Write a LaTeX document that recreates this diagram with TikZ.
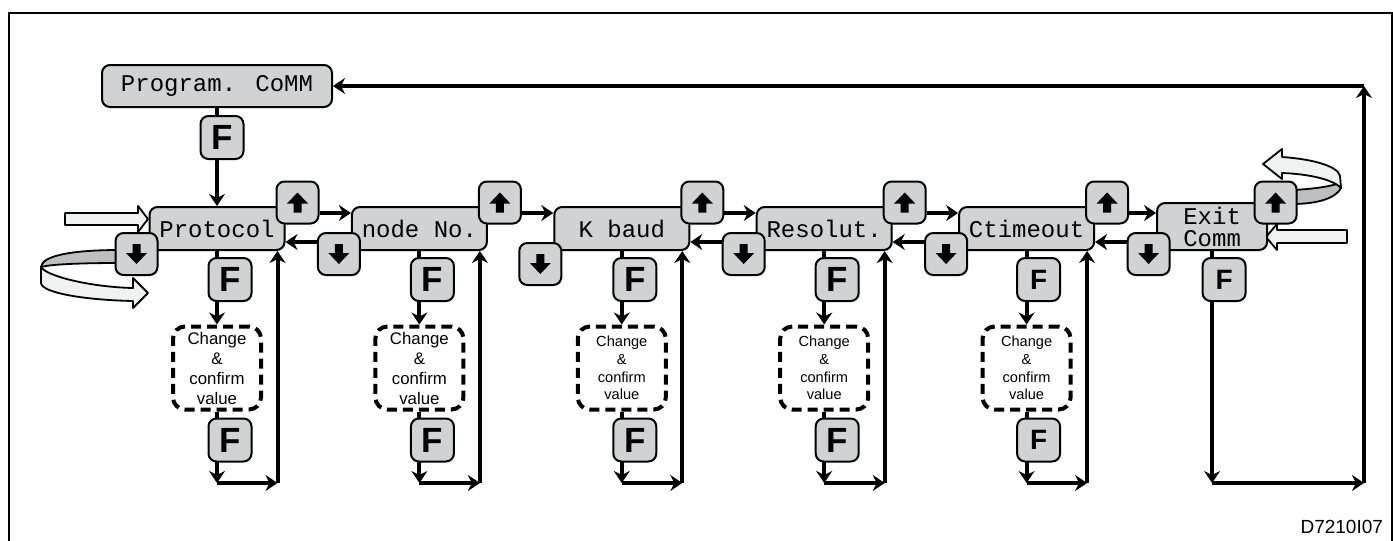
\documentclass[tikz,border=0pt]{standalone}
\usepackage{fontspec}
\setmainfont{Liberation Sans}
\newfontfamily\lcdfont{Liberation Mono}
\usepackage{tikz}
\usetikzlibrary{arrows.meta}
\usetikzlibrary{positioning}
\usetikzlibrary{backgrounds}
\definecolor{keygray}{RGB}{209,210,212}
\definecolor{bandgray}{RGB}{188,190,193}
\definecolor{arrowwhite}{RGB}{240,241,241}
\newcommand{\chgtext}{Change\\\&\\confirm\\value}

\begin{document}
\begin{tikzpicture}[x=0.5pt,y=-0.5pt,on grid,>={Stealth[length=6pt,width=8pt,inset=2pt]},
		menu/.style={rectangle,rounded corners=4pt,draw=black,line width=1pt,fill=keygray,minimum width=67.5pt,minimum height=21.5pt,inner sep=1pt,font=\lcdfont\fontsize{12}{11}\selectfont},
		key/.style={rectangle,rounded corners=4pt,draw=black,line width=1pt,fill=keygray,minimum size=21pt,inner sep=0pt},
		upkey/.style={key,path picture={\fill[black,sharp corners] ([yshift=5pt]path picture bounding box.center) -- ++(5.25pt,-5.5pt) -- ++(-3.25pt,0pt) -- ++(0pt,-4.5pt) -- ++(-4pt,0pt) -- ++(0pt,4.5pt) -- ++(-3.25pt,0pt) -- cycle;}},
		dnkey/.style={key,path picture={\fill[black,sharp corners] ([yshift=-5pt]path picture bounding box.center) -- ++(5.25pt,5.5pt) -- ++(-3.25pt,0pt) -- ++(0pt,4.5pt) -- ++(-4pt,0pt) -- ++(0pt,-4.5pt) -- ++(-3.25pt,0pt) -- cycle;}},
		fkey/.style={key,minimum size=21.5pt,font=\bfseries\fontsize{17.5}{17.5}\selectfont},
		fsmall/.style={key,minimum size=21.5pt,font=\bfseries\fontsize{14}{14}\selectfont},
		chgbox/.style={rectangle,rounded corners=6pt,draw=black,fill=white,line width=2pt,dash pattern=on 5pt off 3pt,minimum width=44pt,minimum height=41.5pt,inner sep=0pt,align=center,font=\fontsize{8.4}{10}\selectfont},
		chgsmall/.style={chgbox,font=\fontsize{7.3}{8.9}\selectfont},
		flow/.style={line width=2pt},
		curl/.style={draw=black,line width=0.9pt,line join=round}]
		\useasboundingbox (0,0) rectangle (1393,541);
		\coordinate (fwd) at (0,213);
		\coordinate (back) at (0,242);
		\coordinate (bot) at (0,483);
		\coordinate (loopx) at (1364,0);
		
		\node[menu]  (prot)   at (217,228.5)            {Protocol};
		\node[menu]  (nodeno) [right=101.2pt of prot]   {node No.};
		\node[menu]  (kbaud)  [right=101.2pt of nodeno] {K baud};
		\node[menu]  (resol)  [right=101.2pt of kbaud]  {Resolut.};
		\node[menu]  (ctime)  [right=101.2pt of resol]  {Ctimeout};
		\node[menu,minimum width=55pt,minimum height=23.5pt,align=center] (exitc) [right=92.75pt of ctime,yshift=1pt] {Exit\\Comm};
		\node[menu,minimum width=115pt,minimum height=21pt] (prg) [above=71.25pt of prot] {Program. CoMM};
		\node[fkey]  (f0) at ([shift={(2.5pt,-14.75pt)}]prg.south) {F};
		
		% up and down keys
		\node[upkey] (up1) at ([shift={(6pt,1.75pt)}]prot.north east) {};
		\node[upkey] (up2) at ([shift={(6pt,1.75pt)}]nodeno.north east) {};
		\node[upkey] (up3) at ([shift={(6pt,1.75pt)}]kbaud.north east) {};
		\node[upkey] (up4) at ([shift={(6pt,1.75pt)}]resol.north east) {};
		\node[upkey] (up5) at ([shift={(6pt,1.75pt)}]ctime.north east) {};
		\node[upkey] (up6) at ([shift={(3.75pt,-0.25pt)}]exitc.north east) {};
		\node[dnkey] (dn1) at ([shift={(-6pt,-1.5pt)}]prot.south west) {};
		\node[dnkey] (dn2) at ([shift={(-6pt,-1.5pt)}]nodeno.south west) {};
		\node[dnkey] (dn3) at ([shift={(-6.5pt,-6.5pt)}]kbaud.south west) {};
		\node[dnkey] (dn4) at ([shift={(-6pt,-1.5pt)}]resol.south west) {};
		\node[dnkey] (dn5) at ([shift={(-6pt,-1.5pt)}]ctime.south west) {};
		\node[dnkey] (dn6) at ([shift={(-3.75pt,-1.5pt)}]exitc.south west) {};
		
		% change & confirm columns
		\node[fkey]     (f1) at ([shift={(6.5pt,-14.25pt)}]prot.south) {F};
		\node[chgbox]   (c1) [below=69.75pt of prot] {\chgtext};
		\node[fkey]     (g1) at ([shift={(6.5pt,-14.25pt)}]c1.south) {F};
		\node[fkey]     (f2) at ([shift={(6.5pt,-14.25pt)}]nodeno.south) {F};
		\node[chgbox]   (c2) [below=69.75pt of nodeno] {\chgtext};
		\node[fkey]     (g2) at ([shift={(6.5pt,-14.25pt)}]c2.south) {F};
		\node[fkey]     (f3) at ([shift={(6.5pt,-14.25pt)}]kbaud.south) {F};
		\node[chgsmall] (c3) [below=69.75pt of kbaud] {\chgtext};
		\node[fkey]     (g3) at ([shift={(6.5pt,-14.25pt)}]c3.south) {F};
		\node[fkey]     (f4) at ([shift={(6.5pt,-14.25pt)}]resol.south) {F};
		\node[chgsmall] (c4) [below=69.75pt of resol] {\chgtext};
		\node[fkey]     (g4) at ([shift={(6.5pt,-14.25pt)}]c4.south) {F};
		\node[fsmall]   (f5) at ([shift={(6pt,-14.25pt)}]ctime.south) {F};
		\node[chgsmall] (c5) [below=69.75pt of ctime] {\chgtext};
		\node[fsmall]   (g5) at ([shift={(6pt,-14.25pt)}]c5.south) {F};
		\node[fsmall]   (f6) at ([shift={(6pt,-14.25pt)}]exitc.south) {F};
		
		\node[anchor=east,font=\fontsize{9.5}{11}\selectfont] (code) at (1390,527) {D7210I07};
		\draw[line width=1.2pt] (9,541) -- (9,13) -- (1392,13) -- (1392,541);
		
		\begin{scope}[on background layer]
		% rotating arrows
		\path[curl,fill=bandgray] (120,250) .. controls (70,250) and (42,256) .. (41,267) .. controls (52,264) and (85,263) .. (120,263) -- cycle;
		\path[curl,fill=arrowwhite] (41,267) .. controls (46,276) and (90,287) .. (133,288) -- (133,278) -- (148,293) -- (133,308) -- (133,301) .. controls (85,300) and (42,293) .. (41,283) -- cycle;
		\path[curl,fill=arrowwhite] (65,213) -- (138,213) -- (138,206) -- (148,219) -- (138,232) -- (138,225) -- (65,225) -- cycle;
		\path[curl,fill=arrowwhite] (1347,230) -- (1277,230) -- (1277,224) -- (1266,237) -- (1277,250) -- (1277,243) -- (1347,243) -- cycle;
		\path[curl,fill=bandgray] (1292,190) .. controls (1315,189) and (1332,186) .. (1340,183) -- (1341,188) .. controls (1336,198) and (1318,204) .. (1292,204) -- cycle;
		\path[curl,fill=arrowwhite] (1282,157) .. controls (1312,159) and (1338,166) .. (1340,176) -- (1341,188) .. controls (1334,180) and (1310,174) .. (1282,173) -- (1282,179) -- (1263,164) -- (1282,149) -- cycle;
		
		\path[flow,->]
		(prg.south) edge (prot.north)
		(up1.east |- fwd) edge (nodeno.west |- fwd)
		(up2.east |- fwd) edge (kbaud.west |- fwd)
		(up3.east |- fwd) edge (resol.west |- fwd)
		(up4.east |- fwd) edge (ctime.west |- fwd)
		(up5.east |- fwd) edge (exitc.west |- fwd)
		(dn2.west |- back) edge (prot.east |- back)
		(dn4.west |- back) edge (kbaud.east |- back)
		(dn5.west |- back) edge (resol.east |- back)
		(dn6.west |- back) edge (ctime.east |- back);
		
		\path[flow,->]
		(prot.south) edge (c1.north)
		(c1.south) edge (prot.south |- bot)
		(prot.south |- bot) edge ([xshift=-4pt]prot.south east |- bot)
		([xshift=-4pt]prot.south east |- bot) edge ([xshift=-4pt]prot.south east)
		(nodeno.south) edge (c2.north)
		(c2.south) edge (nodeno.south |- bot)
		(nodeno.south |- bot) edge ([xshift=-4pt]nodeno.south east |- bot)
		([xshift=-4pt]nodeno.south east |- bot) edge ([xshift=-4pt]nodeno.south east)
		(kbaud.south) edge (c3.north)
		(c3.south) edge (kbaud.south |- bot)
		(kbaud.south |- bot) edge ([xshift=-4pt]kbaud.south east |- bot)
		([xshift=-4pt]kbaud.south east |- bot) edge ([xshift=-4pt]kbaud.south east)
		(resol.south) edge (c4.north)
		(c4.south) edge (resol.south |- bot)
		(resol.south |- bot) edge ([xshift=-4pt]resol.south east |- bot)
		([xshift=-4pt]resol.south east |- bot) edge ([xshift=-4pt]resol.south east)
		(ctime.south) edge (c5.north)
		(c5.south) edge (ctime.south |- bot)
		(ctime.south |- bot) edge ([xshift=-4pt]ctime.south east |- bot)
		([xshift=-4pt]ctime.south east |- bot) edge ([xshift=-4pt]ctime.south east)
		(exitc.south) edge (exitc.south |- bot)
		(exitc.south |- bot) edge (loopx |- bot)
		(loopx |- bot) edge (loopx |- prg.east)
		(loopx |- prg.east) edge (prg.east);
		\end{scope}
\end{tikzpicture}
\end{document}
